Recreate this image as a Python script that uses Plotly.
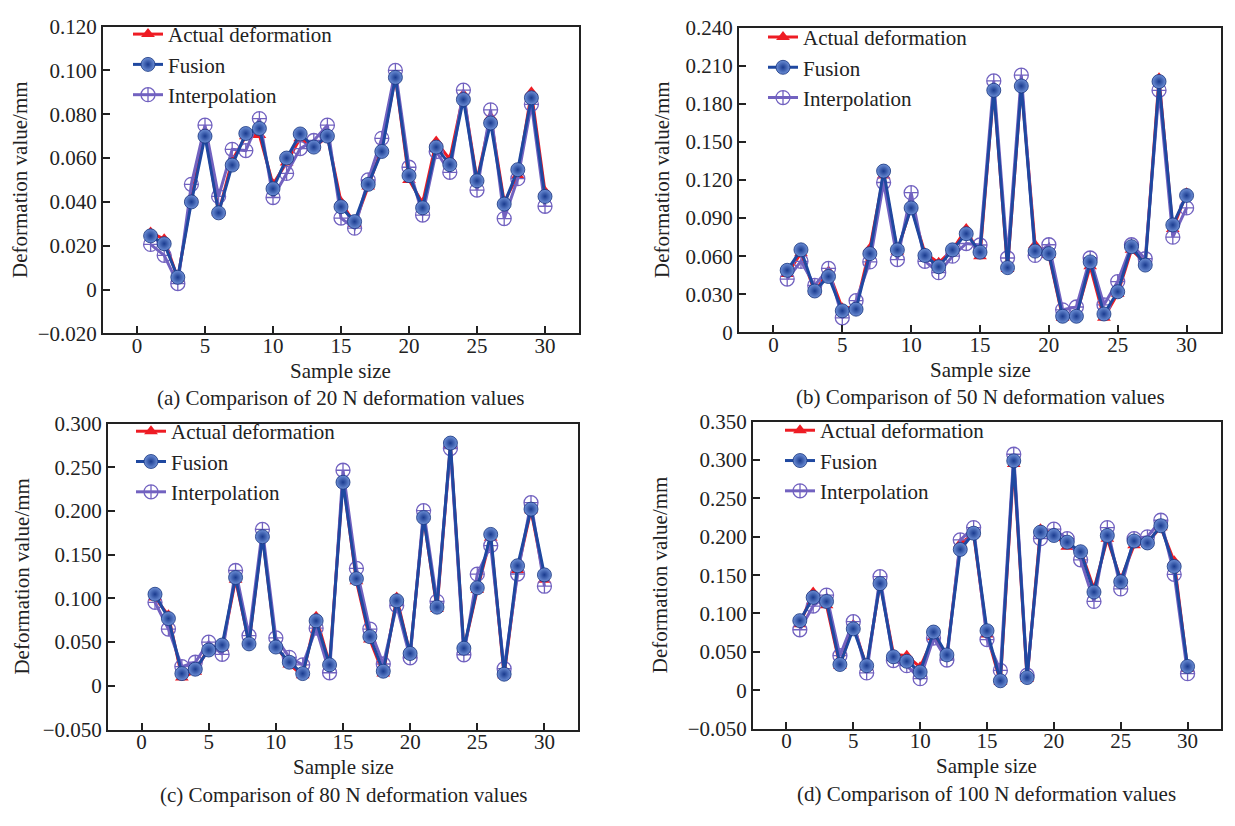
import plotly.graph_objects as go

samples = list(range(1, 31))

actual_a = [0.026, 0.023, 0.005, 0.042, 0.072, 0.035, 0.059, 0.070, 0.0705, 0.048, 0.058, 0.069, 0.0646, 0.070, 0.040,
            0.030, 0.047, 0.0646, 0.097, 0.050, 0.0395, 0.0675, 0.0594, 0.089, 0.050, 0.0786, 0.040, 0.052, 0.090, 0.0447]
fusion_a = [0.0245, 0.0209, 0.0056, 0.040, 0.070, 0.035, 0.0568, 0.0712, 0.0735, 0.046, 0.060, 0.071, 0.065, 0.070, 0.0378,
            0.031, 0.048, 0.063, 0.0968, 0.052, 0.0373, 0.065, 0.057, 0.0867, 0.0496, 0.076, 0.039, 0.0547, 0.0875, 0.0425]
interp_a = [0.0206, 0.0156, 0.0027, 0.048, 0.075, 0.0425, 0.064, 0.0634, 0.078, 0.042, 0.053, 0.0643, 0.068, 0.075, 0.0326,
            0.028, 0.050, 0.069, 0.100, 0.0558, 0.034, 0.063, 0.0535, 0.091, 0.0454, 0.082, 0.0324, 0.0506, 0.0845, 0.038]

actual_b = [0.046, 0.0624, 0.032, 0.048, 0.019, 0.020, 0.066, 0.1236, 0.0637, 0.099, 0.0624, 0.0548, 0.065, 0.0815, 0.060,
            0.192, 0.050, 0.195, 0.0688, 0.061, 0.0115, 0.014, 0.052, 0.0115, 0.0305, 0.065, 0.0548, 0.200, 0.0815, 0.1096]
fusion_b = [0.0489, 0.065, 0.0326, 0.044, 0.017, 0.0183, 0.062, 0.127, 0.065, 0.098, 0.0606, 0.0517, 0.065, 0.0777, 0.0632,
            0.1906, 0.051, 0.194, 0.064, 0.062, 0.0127, 0.0127, 0.0555, 0.0145, 0.032, 0.0675, 0.053, 0.1975, 0.0846, 0.1078]
interp_b = [0.042, 0.056, 0.037, 0.0504, 0.0115, 0.025, 0.0555, 0.118, 0.0573, 0.110, 0.056, 0.047, 0.060, 0.070, 0.0688,
            0.198, 0.0586, 0.2025, 0.0606, 0.069, 0.0178, 0.020, 0.0586, 0.0217, 0.040, 0.069, 0.058, 0.1906, 0.075, 0.098]

actual_c = [0.101, 0.0807, 0.0096, 0.016, 0.0437, 0.0437, 0.1215, 0.049, 0.173, 0.0456, 0.0244, 0.012, 0.079, 0.025, 0.236,
            0.1196, 0.053, 0.014, 0.101, 0.036, 0.1937, 0.088, 0.275, 0.0419, 0.110, 0.1696, 0.012, 0.1326, 0.201, 0.1215]
fusion_c = [0.1048, 0.077, 0.014, 0.019, 0.041, 0.0467, 0.124, 0.048, 0.1707, 0.0444, 0.027, 0.014, 0.0744, 0.024, 0.233,
            0.1226, 0.0563, 0.0167, 0.0974, 0.037, 0.1926, 0.090, 0.2778, 0.043, 0.1122, 0.1733, 0.0133, 0.1374, 0.2022, 0.127]
interp_c = [0.0956, 0.065, 0.022, 0.027, 0.050, 0.036, 0.132, 0.0574, 0.179, 0.0548, 0.0326, 0.024, 0.066, 0.015, 0.2467,
            0.1344, 0.065, 0.025, 0.0919, 0.032, 0.2004, 0.0967, 0.2715, 0.0356, 0.1278, 0.1604, 0.0196, 0.128, 0.2096, 0.114]

actual_d = [0.086, 0.1275, 0.1106, 0.032, 0.085, 0.030, 0.140, 0.047, 0.045, 0.030, 0.069, 0.045, 0.191, 0.2038, 0.0725,
            0.011, 0.295, 0.015, 0.210, 0.2038, 0.187, 0.182, 0.132, 0.1975, 0.1445, 0.189, 0.193, 0.2123, 0.168, 0.028]
fusion_d = [0.0907, 0.121, 0.1157, 0.0335, 0.080, 0.032, 0.139, 0.0436, 0.0377, 0.0237, 0.0758, 0.046, 0.1835, 0.2047, 0.0775,
            0.0123, 0.299, 0.0165, 0.206, 0.2017, 0.193, 0.1805, 0.128, 0.2017, 0.1415, 0.1945, 0.192, 0.2144, 0.1614, 0.031]
interp_d = [0.0788, 0.1097, 0.124, 0.045, 0.0894, 0.0225, 0.148, 0.0386, 0.032, 0.015, 0.068, 0.0394, 0.196, 0.212, 0.066,
            0.0258, 0.3076, 0.0195, 0.1975, 0.210, 0.1975, 0.170, 0.1157, 0.212, 0.132, 0.1975, 0.200, 0.2216, 0.151, 0.0216]

series_names = ["Actual deformation", "Fusion", "Interpolation"]
captions = ["(a) Comparison of 20 N deformation values",
            "(b) Comparison of 50 N deformation values",
            "(c) Comparison of 80 N deformation values",
            "(d) Comparison of 100 N deformation values"]
y_ranges = [[-0.02, 0.12], [0.0, 0.24], [-0.05, 0.30], [-0.05, 0.35]]
y_tickvals = [
    [-0.02, 0.0, 0.02, 0.04, 0.06, 0.08, 0.10, 0.12],
    [0.0, 0.03, 0.06, 0.09, 0.12, 0.15, 0.18, 0.21, 0.24],
    [-0.05, 0.0, 0.05, 0.10, 0.15, 0.20, 0.25, 0.30],
    [-0.05, 0.0, 0.05, 0.10, 0.15, 0.20, 0.25, 0.30, 0.35],
]
y_ticktext = [
    ["\u22120.020", "0", "0.020", "0.040", "0.060", "0.080", "0.100", "0.120"],
    ["0", "0.030", "0.060", "0.090", "0.120", "0.150", "0.180", "0.210", "0.240"],
    ["\u22120.050", "0", "0.050", "0.100", "0.150", "0.200", "0.250", "0.300"],
    ["\u22120.050", "0", "0.050", "0.100", "0.150", "0.200", "0.250", "0.300", "0.350"],
]
x_ticks = [0, 5, 10, 15, 20, 25, 30]

data = [(actual_a, fusion_a, interp_a), (actual_b, fusion_b, interp_b),
        (actual_c, fusion_c, interp_c), (actual_d, fusion_d, interp_d)]

W, H = 1235, 826
# plot boxes in pixels: left, right, top, bottom
boxes = [(103, 579, 15, 331), (739, 1221, 16, 330), (108, 578, 424, 739), (753, 1221, 422, 738)]
legend_pos = [(128, 2), (763, 5), (131, 411), (780, 410)]
ytitle_x = [20, 662, 22, 660]

FONT = "Liberation Serif"
FS = 21
LFS = 21
C_ACT = "#ee1c24"
C_FUS = "#1f48a0"
C_INT = "#7262c0"

fig = go.Figure()
annotations = []

for i, (act, fus, itp) in enumerate(data):
    k = "" if i == 0 else str(i + 1)
    xa, ya = "x" + k, "y" + k
    lg = "legend" + k
    fig.add_trace(go.Scatter(x=samples, y=act, name=series_names[0], mode="lines+markers",
                             xaxis=xa, yaxis=ya, legend=lg, legendrank=1,
                             line=dict(color=C_ACT, width=3),
                             marker=dict(symbol="triangle-up", size=12, color=C_ACT)))
    fig.add_trace(go.Scatter(x=samples, y=itp, name=series_names[2], mode="lines+markers",
                             xaxis=xa, yaxis=ya, legend=lg, legendrank=3,
                             line=dict(color=C_INT, width=3),
                             marker=dict(symbol="circle-cross-open", size=14, color=C_INT,
                                         line=dict(width=1.3, color=C_INT))))
    fig.add_trace(go.Scatter(x=samples, y=fus, name=series_names[1], mode="lines+markers",
                             xaxis=xa, yaxis=ya, legend=lg, legendrank=2,
                             line=dict(color=C_FUS, width=3),
                             marker=dict(symbol="circle", size=14, color="#6d8fd6",
                                         gradient=dict(type="radial", color="#1a3b8f"),
                                         line=dict(width=0.8, color="#17357f"))))

    l, r, t, b = boxes[i]
    xdom = [l / W, r / W]
    ydom = [1 - b / H, 1 - t / H]
    axis_common = dict(showline=True, linecolor="#222", linewidth=2, mirror=True,
                       ticks="inside", ticklen=7, tickwidth=2, tickcolor="#222",
                       showgrid=False, zeroline=False,
                       tickfont=dict(family=FONT, size=FS, color="#222"))
    fig.update_layout(**{
        "xaxis" + k: dict(domain=xdom, range=[-2.5, 32.5], tickvals=x_ticks, anchor=ya,
                          ticklabelstandoff=-8, **axis_common),
        "yaxis" + k: dict(domain=ydom, range=y_ranges[i], tickvals=y_tickvals[i], ticktext=y_ticktext[i],
                          anchor=xa, **axis_common),
        lg: dict(x=legend_pos[i][0] / W, y=1 - legend_pos[i][1] / H, xanchor="left", yanchor="top",
                 bgcolor="rgba(0,0,0,0)", borderwidth=0, tracegroupgap=0,
                 font=dict(family=FONT, size=LFS, color="#222"), itemwidth=30,
                 traceorder="normal"),
    })
    cx = (l + r) / 2 / W
    annotations.append(dict(text="Sample size", x=cx, y=1 - (b + 39) / H, xref="paper", yref="paper",
                            showarrow=False, xanchor="center", yanchor="middle",
                            font=dict(family=FONT, size=FS, color="#222")))
    annotations.append(dict(text=captions[i], x=cx, y=1 - (b + 67) / H, xref="paper", yref="paper",
                            showarrow=False, xanchor="center", yanchor="middle",
                            font=dict(family=FONT, size=FS, color="#222")))
    annotations.append(dict(text="Deformation value/mm", x=ytitle_x[i] / W, y=1 - (t + b) / 2 / H,
                            xref="paper", yref="paper", textangle=-90,
                            showarrow=False, xanchor="center", yanchor="middle",
                            font=dict(family=FONT, size=FS, color="#222")))

fig.update_layout(width=W, height=H, margin=dict(l=0, r=0, t=0, b=0),
                  paper_bgcolor="white", plot_bgcolor="white",
                  annotations=annotations, showlegend=True)

fig.write_html("out.html")
